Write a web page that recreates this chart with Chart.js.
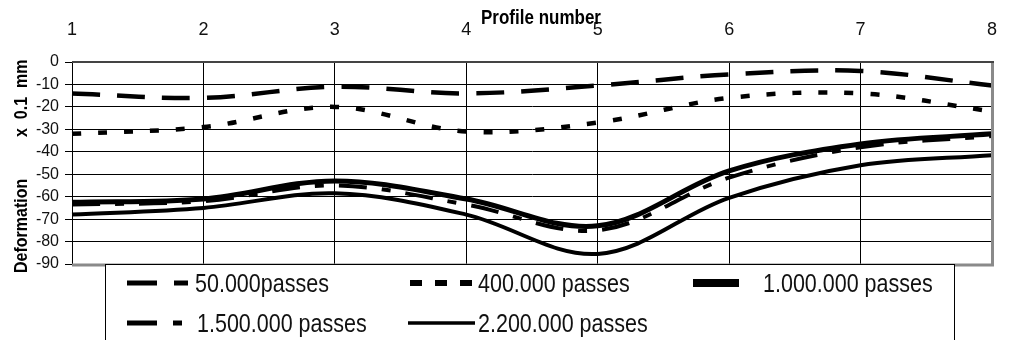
<!DOCTYPE html>
<html>
<head>
<meta charset="utf-8">
<title>Deformation by profile number</title>
<script src="https://cdn.jsdelivr.net/npm/chart.js@4.4.1/dist/chart.umd.min.js"></script>
<style>
  html, body { margin: 0; padding: 0; background: #fff; }
  #wrap { width: 1018px; height: 340px; position: relative; }
</style>
</head>
<body>
<div id="wrap"><canvas id="deformChart"></canvas></div>
<script>
// Profile numbers (top axis) and deformation readings, x 0.1 mm
const profiles = ['1', '2', '3', '4', '5', '6', '7', '8'];
const yTicks = [0, -10, -20, -30, -40, -50, -60, -70, -80, -90];

const passes50k  = [-14, -16, -11, -14, -10.5, -5.5, -4, -10.5];
const passes400k = [-32, -29, -20, -31, -27, -16, -14, -22];
const passes1M   = [-62.5, -61, -53, -61, -73, -48.5, -36.5, -32];
const passes15M  = [-63.5, -62, -55, -63.5, -75, -51.5, -38, -33];
const passes22M  = [-68, -65, -58.5, -68, -85.5, -60.5, -46, -41.5];

const seriesNames = ['50.000passes', '400.000 passes', '1.000.000 passes', '1.500.000 passes', '2.200.000 passes'];

const FONT = '"Liberation Sans", Arial, sans-serif';

// Excel-like legend box under the plot, plus frame and axis titles
const legendPlugin = {
  id: 'boxLegend',
  afterDraw(chart) {
    const ctx = chart.ctx;
    const area = chart.chartArea;
    const ds = chart.data.datasets;
    ctx.save();

    // plot frame (gray on right / bottom, darker on top)
    ctx.strokeStyle = '#8a8a8a';
    ctx.lineWidth = 3;
    ctx.beginPath();
    ctx.moveTo(area.right + 0.5, area.top);
    ctx.lineTo(area.right + 0.5, area.bottom + 1);
    ctx.lineTo(area.left, area.bottom + 1);
    ctx.stroke();
    ctx.strokeStyle = '#444';
    ctx.lineWidth = 2;
    ctx.beginPath();
    ctx.moveTo(area.left, area.top);
    ctx.lineTo(area.right + 2, area.top);
    ctx.stroke();

    // legend frame
    const bx = 105, by = 264, bw = 849, bh = 90;
    ctx.fillStyle = '#fff';
    ctx.fillRect(bx, by, bw, bh);
    ctx.strokeStyle = '#000';
    ctx.lineWidth = 1;
    ctx.strokeRect(bx + 0.5, by + 0.5, bw, bh);

    const items = [
      { i: 0, x0: 127, x1: 188, y: 283, tx: 195, base: 292, w: 5, dash: [30, 17] },
      { i: 1, x0: 410, x1: 472, y: 283, tx: 478, base: 292, w: 6, dash: [12, 13] },
      { i: 2, x0: 693, x1: 739, y: 283, tx: 763, base: 292, w: 8, dash: [] },
      { i: 3, x0: 127, x1: 182, y: 323, tx: 197, base: 332, w: 5, dash: [30, 16, 9, 16] },
      { i: 4, x0: 408, x1: 475, y: 323, tx: 478, base: 332, w: 3.5, dash: [] }
    ];
    items.forEach(it => {
      ctx.strokeStyle = '#000';
      ctx.lineWidth = it.w;
      ctx.lineCap = 'butt';
      ctx.setLineDash(it.dash);
      ctx.beginPath();
      ctx.moveTo(it.x0, it.y);
      ctx.lineTo(it.x1, it.y);
      ctx.stroke();
      ctx.setLineDash([]);

      ctx.save();
      ctx.translate(it.tx, it.base);
      ctx.scale(1, 1.18);
      ctx.fillStyle = '#111';
      ctx.font = '21.5px ' + FONT;
      ctx.textAlign = 'left';
      ctx.textBaseline = 'alphabetic';
      ctx.fillText(ds[it.i].label, 0, 0);
      ctx.restore();
    });

    // axis titles
    ctx.save();
    ctx.translate(541, 24);
    ctx.scale(1, 1.2);
    ctx.fillStyle = '#000';
    ctx.font = 'bold 17px ' + FONT;
    ctx.textAlign = 'center';
    ctx.textBaseline = 'alphabetic';
    ctx.fillText('Profile number', 0, 0);
    ctx.restore();

    ctx.save();
    ctx.translate(27, 273);
    ctx.rotate(-Math.PI / 2);
    ctx.scale(1, 1.2);
    ctx.fillStyle = '#000';
    ctx.font = 'bold 16px ' + FONT;
    ctx.textAlign = 'left';
    ctx.textBaseline = 'alphabetic';
    ctx.fillText('Deformation', 0, 0);
    ctx.fillText('x  0.1  mm', 136, 0);
    ctx.restore();

    ctx.restore();
  }
};

function makeSeries(label, data, width, dash) {
  return {
    label: label,
    data: data,
    borderColor: '#000',
    backgroundColor: '#000',
    borderWidth: width,
    borderDash: dash,
    borderCapStyle: 'butt',
    pointRadius: 0,
    tension: 0.35,
    fill: false
  };
}

function initChart() {
  const ctx = document.getElementById('deformChart').getContext('2d');
  return new Chart(ctx, {
    type: 'line',
    data: {
      labels: profiles,
      datasets: [
        makeSeries(seriesNames[0], passes50k, 4.5, [28, 17]),
        makeSeries(seriesNames[1], passes400k, 4.5, [9, 17]),
        makeSeries(seriesNames[2], passes1M, 5, []),
        makeSeries(seriesNames[3], passes15M, 4, [28, 15, 9, 15]),
        makeSeries(seriesNames[4], passes22M, 4, [])
      ]
    },
    options: {
      responsive: true,
      maintainAspectRatio: false,
      devicePixelRatio: 1,
      animation: false,
      layout: { padding: { top: 0, left: 0, right: 13, bottom: 76 } },
      plugins: {
        legend: { display: false },
        tooltip: { enabled: false }
      },
      scales: {
        x: {
          position: 'top',
          offset: false,
          afterFit(scale) { scale.height = 62; },
          grid: { color: '#000', lineWidth: 1, drawTicks: false },
          border: { display: false },
          ticks: { color: '#111', padding: 21, font: { family: FONT, size: 18 }, maxRotation: 0 }
        },
        y: {
          min: -90,
          max: 0,
          afterFit(scale) { scale.width = 72; },
          afterBuildTicks(scale) { scale.ticks = yTicks.map(v => ({ value: v })); },
          grid: { color: '#000', lineWidth: 1, drawTicks: true, tickLength: 7 },
          border: { display: true, color: '#000', width: 1 },
          ticks: { color: '#111', padding: 6, font: { family: FONT, size: 16 } }
        }
      }
    },
    plugins: [legendPlugin]
  });
}

document.addEventListener('DOMContentLoaded', () => {
  initChart();
});
</script>
</body>
</html>
